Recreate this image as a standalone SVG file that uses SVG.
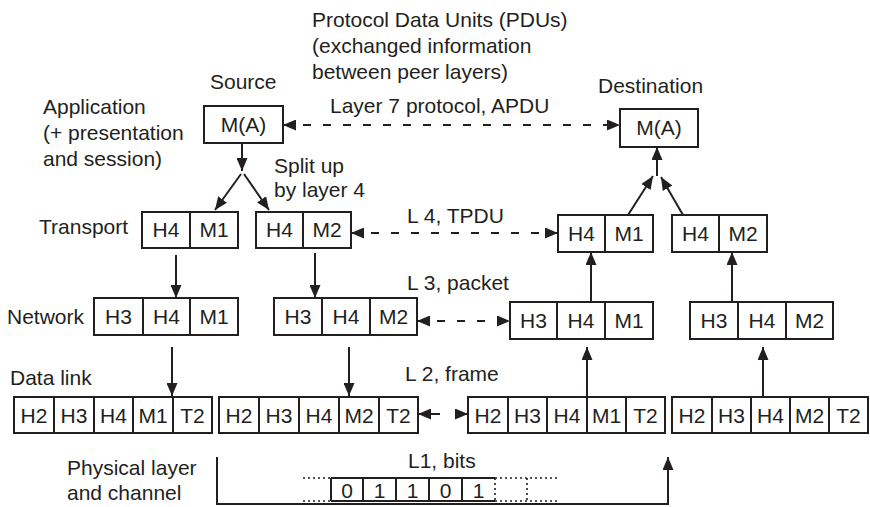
<svg xmlns="http://www.w3.org/2000/svg" width="870" height="507" viewBox="0 0 870 507">
<style>
text{font-family:"Liberation Sans",Arial,sans-serif;font-size:21px;fill:#231f20}
.c{text-anchor:middle}
.box{fill:#fff;stroke:#231f20;stroke-width:2}
.div{stroke:#231f20;stroke-width:2}
.ln{stroke:#231f20;stroke-width:2;fill:none}
.dash{stroke:#231f20;stroke-width:2;fill:none;stroke-dasharray:8 12}
.dot{stroke:#231f20;stroke-width:1.6;fill:none;stroke-dasharray:2 3}
</style>
<defs>
<marker id="ah" viewBox="0 0 13 11" refX="13" refY="5.5" markerWidth="13" markerHeight="11" markerUnits="userSpaceOnUse" orient="auto-start-reverse"><path d="M0,0 L13,5.5 L0,11 z" fill="#231f20"/></marker>
</defs>
<rect width="870" height="507" fill="#fff"/>

<g id="labels">
<text x="312" y="27">Protocol Data Units (PDUs)</text>
<text x="312" y="53">(exchanged information</text>
<text x="312" y="79">between peer layers)</text>
<text x="210" y="89">Source</text>
<text x="598" y="93">Destination</text>
<text x="43" y="114">Application</text>
<text x="43" y="140">(+ presentation</text>
<text x="43" y="166">and session)</text>
<text x="330" y="113">Layer 7 protocol, APDU</text>
<text x="274" y="173">Split up</text>
<text x="274" y="197">by layer 4</text>
<text x="39" y="234">Transport</text>
<text x="407" y="223">L 4, TPDU</text>
<text x="7" y="324">Network</text>
<text x="407" y="290">L 3, packet</text>
<text x="10" y="385">Data link</text>
<text x="405" y="381">L 2, frame</text>
<text x="67" y="475">Physical layer</text>
<text x="67" y="500">and channel</text>
<text x="408" y="468">L1, bits</text>
</g>

<g id="src-app">
<rect class="box" x="204" y="106" width="79" height="37"/>
<text class="c" x="243.5" y="132">M(A)</text>
</g>
<g id="dst-app">
<rect class="box" x="620" y="109" width="78" height="38"/>
<text class="c" x="659" y="135">M(A)</text>
</g>

<g id="src-t1">
<rect class="box" x="142" y="212" width="96" height="36"/>
<line class="div" x1="190" y1="212" x2="190" y2="248"/>
<text class="c" x="166" y="237">H4</text><text class="c" x="214" y="237">M1</text>
</g>
<g id="src-t2">
<rect class="box" x="256" y="212" width="95" height="36"/>
<line class="div" x1="303" y1="212" x2="303" y2="248"/>
<text class="c" x="279.5" y="237">H4</text><text class="c" x="327" y="237">M2</text>
</g>
<g id="dst-t1">
<rect class="box" x="558" y="215" width="95" height="37"/>
<line class="div" x1="605" y1="215" x2="605" y2="252"/>
<text class="c" x="581.5" y="241">H4</text><text class="c" x="629" y="241">M1</text>
</g>
<g id="dst-t2">
<rect class="box" x="672" y="215" width="95" height="37"/>
<line class="div" x1="719" y1="215" x2="719" y2="252"/>
<text class="c" x="695.5" y="241">H4</text><text class="c" x="743" y="241">M2</text>
</g>

<g id="src-n1">
<rect class="box" x="94" y="298" width="144" height="37"/>
<line class="div" x1="143" y1="298" x2="143" y2="335"/>
<line class="div" x1="190" y1="298" x2="190" y2="335"/>
<text class="c" x="118.5" y="324">H3</text><text class="c" x="166.5" y="324">H4</text><text class="c" x="214" y="324">M1</text>
</g>
<g id="src-n2">
<rect class="box" x="274" y="298" width="143" height="37"/>
<line class="div" x1="322" y1="298" x2="322" y2="335"/>
<line class="div" x1="370" y1="298" x2="370" y2="335"/>
<text class="c" x="298" y="324">H3</text><text class="c" x="346" y="324">H4</text><text class="c" x="393.5" y="324">M2</text>
</g>
<g id="dst-n1">
<rect class="box" x="510" y="302" width="143" height="37"/>
<line class="div" x1="557" y1="302" x2="557" y2="339"/>
<line class="div" x1="605" y1="302" x2="605" y2="339"/>
<text class="c" x="533.5" y="328">H3</text><text class="c" x="581" y="328">H4</text><text class="c" x="629" y="328">M1</text>
</g>
<g id="dst-n2">
<rect class="box" x="690" y="302" width="143" height="37"/>
<line class="div" x1="738" y1="302" x2="738" y2="339"/>
<line class="div" x1="786" y1="302" x2="786" y2="339"/>
<text class="c" x="714" y="328">H3</text><text class="c" x="762" y="328">H4</text><text class="c" x="809.5" y="328">M2</text>
</g>

<g id="src-d1">
<rect class="box" x="14" y="397" width="198" height="36"/>
<line class="div" x1="54" y1="397" x2="54" y2="433"/>
<line class="div" x1="94" y1="397" x2="94" y2="433"/>
<line class="div" x1="133" y1="397" x2="133" y2="433"/>
<line class="div" x1="173" y1="397" x2="173" y2="433"/>
<text class="c" x="34" y="423">H2</text><text class="c" x="74" y="423">H3</text><text class="c" x="113.5" y="423">H4</text><text class="c" x="153" y="423">M1</text><text class="c" x="192.5" y="423">T2</text>
</g>
<g id="src-d2">
<rect class="box" x="219" y="397" width="199" height="36"/>
<line class="div" x1="259" y1="397" x2="259" y2="433"/>
<line class="div" x1="299" y1="397" x2="299" y2="433"/>
<line class="div" x1="339" y1="397" x2="339" y2="433"/>
<line class="div" x1="379" y1="397" x2="379" y2="433"/>
<text class="c" x="239" y="423">H2</text><text class="c" x="279" y="423">H3</text><text class="c" x="319" y="423">H4</text><text class="c" x="359" y="423">M2</text><text class="c" x="398.5" y="423">T2</text>
</g>
<g id="dst-d1">
<rect class="box" x="468" y="397" width="197" height="36"/>
<line class="div" x1="508" y1="397" x2="508" y2="433"/>
<line class="div" x1="547" y1="397" x2="547" y2="433"/>
<line class="div" x1="587" y1="397" x2="587" y2="433"/>
<line class="div" x1="626" y1="397" x2="626" y2="433"/>
<text class="c" x="488" y="423">H2</text><text class="c" x="527.5" y="423">H3</text><text class="c" x="567" y="423">H4</text><text class="c" x="606.5" y="423">M1</text><text class="c" x="645.5" y="423">T2</text>
</g>
<g id="dst-d2">
<rect class="box" x="672" y="397" width="196" height="36"/>
<line class="div" x1="712" y1="397" x2="712" y2="433"/>
<line class="div" x1="751" y1="397" x2="751" y2="433"/>
<line class="div" x1="790" y1="397" x2="790" y2="433"/>
<line class="div" x1="829" y1="397" x2="829" y2="433"/>
<text class="c" x="692" y="423">H2</text><text class="c" x="731.5" y="423">H3</text><text class="c" x="770.5" y="423">H4</text><text class="c" x="809.5" y="423">M2</text><text class="c" x="848.5" y="423">T2</text>
</g>

<g id="bits">
<line class="dot" x1="303" y1="478" x2="331" y2="478"/>
<line class="dot" x1="303" y1="501" x2="331" y2="501"/>
<path class="ln" d="M331,478 H495 M331,501 H495 M331,478 V501 M363,478 V501 M396,478 V501 M429,478 V501 M462,478 V501"/>
<line class="dot" x1="495" y1="478" x2="495" y2="501"/>
<line class="dot" x1="527" y1="478" x2="527" y2="501"/>
<line class="dot" x1="495" y1="478" x2="558" y2="478"/>
<line class="dot" x1="495" y1="501" x2="558" y2="501"/>
<text class="c" x="347" y="498">0</text><text class="c" x="379.5" y="498">1</text><text class="c" x="412.5" y="498">1</text><text class="c" x="445.5" y="498">0</text><text class="c" x="478.5" y="498">1</text>
</g>

<g id="connectors">
<line class="dash" x1="283" y1="125" x2="620" y2="125" marker-start="url(#ah)" marker-end="url(#ah)"/>
<line class="dash" x1="351" y1="233" x2="558" y2="233" marker-start="url(#ah)" marker-end="url(#ah)"/>
<line class="dash" x1="417" y1="321" x2="510" y2="321" marker-start="url(#ah)" marker-end="url(#ah)"/>
<line class="ln" x1="440" y1="414" x2="418" y2="414" marker-end="url(#ah)"/>
<line class="ln" x1="456" y1="414" x2="468" y2="414" marker-end="url(#ah)"/>

<line class="ln" x1="242" y1="143" x2="242" y2="171" marker-end="url(#ah)"/>
<line class="ln" x1="241" y1="174" x2="215" y2="210" marker-end="url(#ah)"/>
<line class="ln" x1="244" y1="174" x2="269" y2="210" marker-end="url(#ah)"/>

<line class="ln" x1="176" y1="255" x2="176" y2="298" marker-end="url(#ah)"/>
<line class="ln" x1="315" y1="253" x2="315" y2="298" marker-end="url(#ah)"/>
<line class="ln" x1="172" y1="347" x2="172" y2="396" marker-end="url(#ah)"/>
<line class="ln" x1="349" y1="347" x2="349" y2="396" marker-end="url(#ah)"/>

<line class="ln" x1="587" y1="397" x2="587" y2="347" marker-end="url(#ah)"/>
<line class="ln" x1="763" y1="397" x2="763" y2="347" marker-end="url(#ah)"/>
<line class="ln" x1="591" y1="302" x2="591" y2="252" marker-end="url(#ah)"/>
<line class="ln" x1="732" y1="302" x2="732" y2="252" marker-end="url(#ah)"/>

<line class="ln" x1="628" y1="215" x2="653" y2="176" marker-end="url(#ah)"/>
<line class="ln" x1="683" y1="215" x2="661" y2="177" marker-end="url(#ah)"/>
<line class="ln" x1="657" y1="176" x2="657" y2="147" marker-end="url(#ah)"/>

<path class="ln" d="M217,457 V504 H668 V457" marker-end="url(#ah)"/>
</g>
</svg>
